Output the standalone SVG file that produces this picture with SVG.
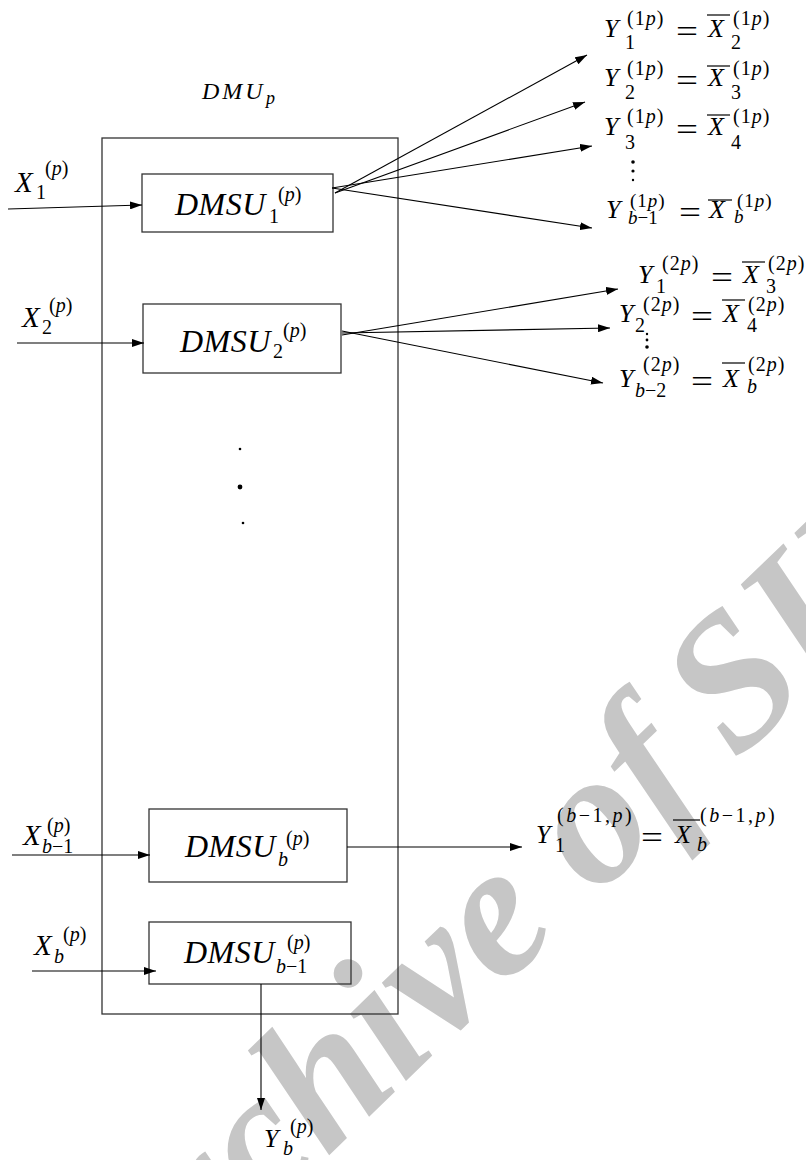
<svg xmlns="http://www.w3.org/2000/svg" width="806" height="1160" viewBox="0 0 806 1160">
<defs>
<marker id="ah" markerUnits="userSpaceOnUse" markerWidth="12" markerHeight="8" refX="12" refY="4" orient="auto">
<path d="M0,0 L12,4 L0,8 z" fill="#000"/>
</marker>
<style>
.wm{font-family:"Liberation Serif",serif;font-weight:bold;font-style:italic;font-size:190px;fill:#c6c6c6}
.box{fill:none;stroke:#333;stroke-width:1.3}
.con line{stroke:#000;stroke-width:1.1;marker-end:url(#ah)}
text{font-family:"Liberation Serif","DejaVu Serif",serif;fill:#000}
.i{font-style:italic}
.n{font-style:normal}
.L{font-size:32px;font-style:italic;letter-spacing:0.5px}
.X{font-size:29px;font-style:italic}
.R{font-size:26px;font-style:italic}
.s{font-size:20px}
.t{font-size:19px}
.eq{font-size:32px;font-style:normal}
.ov{stroke:#000;stroke-width:1.2}
</style>
</defs>
<rect width="806" height="1160" fill="#fff"/>
<text class="wm" transform="translate(266,1216) rotate(-44)" x="-201" y="0">Archive of <tspan dx="-10">SID</tspan></text>

<g id="dmu">
<rect class="box" x="102" y="138" width="296" height="876"/>
<text x="202" y="99" style="font-size:24px;font-style:italic;letter-spacing:3px">DMU<tspan x="266" y="104" style="font-size:18px;letter-spacing:0">p</tspan></text>
</g>

<g id="dmsu1">
<rect class="box" x="142" y="174" width="191" height="58"/>
<text><tspan class="L" x="175" y="215">DMSU</tspan><tspan class="s n" x="269" y="223">1</tspan><tspan class="s n" x="278" y="201">(<tspan class="i">p</tspan>)</tspan></text>
</g>
<g id="dmsu2">
<rect class="box" x="143" y="304" width="198" height="69"/>
<text><tspan class="L" x="180" y="352">DMSU</tspan><tspan class="s n" x="273" y="358">2</tspan><tspan class="s n" x="283" y="337">(<tspan class="i">p</tspan>)</tspan></text>
</g>
<g id="dmsub">
<rect class="box" x="149" y="809" width="198" height="73"/>
<text><tspan class="L" x="185" y="857">DMSU</tspan><tspan class="s i" x="278" y="866">b</tspan><tspan class="s n" x="286" y="845">(<tspan class="i">p</tspan>)</tspan></text>
</g>
<g id="dmsub1">
<rect class="box" x="149" y="922" width="202" height="62"/>
<text><tspan class="L" x="184" y="963">DMSU</tspan><tspan class="s i" x="276" y="973">b<tspan class="n">−1</tspan></tspan><tspan class="s n" x="287" y="949">(<tspan class="i">p</tspan>)</tspan></text>
</g>

<g id="dots">
<circle cx="240" cy="449" r="1.3"/>
<circle cx="240" cy="487" r="2.4"/>
<circle cx="243" cy="523" r="1.3"/>
</g>

<g id="inputs">
<text><tspan class="X" x="15" y="192">X</tspan><tspan class="s n" x="36" y="199">1</tspan><tspan class="s n" x="45" y="175">(<tspan class="i">p</tspan>)</tspan></text>
<text><tspan class="X" x="22" y="327">X</tspan><tspan class="s n" x="42" y="334">2</tspan><tspan class="s n" x="49" y="312">(<tspan class="i">p</tspan>)</tspan></text>
<text><tspan class="X" x="23" y="845">X</tspan><tspan class="s i" x="42" y="853">b<tspan class="n">−1</tspan></tspan><tspan class="s n" x="47" y="832">(<tspan class="i">p</tspan>)</tspan></text>
<text><tspan class="X" x="34" y="955">X</tspan><tspan class="s i" x="54" y="963">b</tspan><tspan class="s n" x="63" y="941">(<tspan class="i">p</tspan>)</tspan></text>
</g>

<g id="out1">
<text><tspan class="R" x="604" y="37">Y</tspan><tspan class="s n" x="625" y="49">1</tspan><tspan class="s n" x="627" y="25" style="letter-spacing:1px">(1<tspan class="i">p</tspan>)</tspan><tspan class="eq" x="676" y="42" textLength="22" lengthAdjust="spacingAndGlyphs">=</tspan><tspan class="R" x="708" y="37">X</tspan><tspan class="s n" x="731" y="49">2</tspan><tspan class="s n" x="733" y="25" style="letter-spacing:1px">(1<tspan class="i">p</tspan>)</tspan></text>
<line class="ov" x1="707" y1="15" x2="730" y2="15"/>
<text><tspan class="R" x="604" y="86">Y</tspan><tspan class="s n" x="625" y="99">2</tspan><tspan class="s n" x="627" y="75" style="letter-spacing:1px">(1<tspan class="i">p</tspan>)</tspan><tspan class="eq" x="676" y="91" textLength="22" lengthAdjust="spacingAndGlyphs">=</tspan><tspan class="R" x="708" y="86">X</tspan><tspan class="s n" x="731" y="99">3</tspan><tspan class="s n" x="733" y="75" style="letter-spacing:1px">(1<tspan class="i">p</tspan>)</tspan></text>
<line class="ov" x1="707" y1="66" x2="730" y2="66"/>
<text><tspan class="R" x="604" y="135">Y</tspan><tspan class="s n" x="625" y="149">3</tspan><tspan class="s n" x="627" y="123" style="letter-spacing:1px">(1<tspan class="i">p</tspan>)</tspan><tspan class="eq" x="676" y="140" textLength="22" lengthAdjust="spacingAndGlyphs">=</tspan><tspan class="R" x="708" y="135">X</tspan><tspan class="s n" x="731" y="149">4</tspan><tspan class="s n" x="733" y="123" style="letter-spacing:1px">(1<tspan class="i">p</tspan>)</tspan></text>
<line class="ov" x1="707" y1="115" x2="730" y2="115"/>
<circle cx="633" cy="162" r="1.8"/>
<circle cx="633" cy="171" r="1.6"/>
<circle cx="633" cy="180" r="1.2"/>
<text><tspan class="R" x="606" y="218">Y</tspan><tspan class="t i" x="628" y="224">b<tspan class="n">−1</tspan></tspan><tspan class="t n" x="630" y="207" style="letter-spacing:1px">(1<tspan class="i">p</tspan>)</tspan><tspan class="eq" x="679" y="223" textLength="22" lengthAdjust="spacingAndGlyphs">=</tspan><tspan class="R" x="709" y="218">X</tspan><tspan class="t i" x="734" y="223">b</tspan><tspan class="t n" x="737" y="207" style="letter-spacing:1px">(1<tspan class="i">p</tspan>)</tspan></text>
<line class="ov" x1="708" y1="200" x2="732" y2="200"/>
</g>

<g id="out2">
<text><tspan class="R" x="638" y="283">Y</tspan><tspan class="s n" x="656" y="293">1</tspan><tspan class="s n" x="662" y="270" style="letter-spacing:1px">(2<tspan class="i">p</tspan>)</tspan><tspan class="eq" x="711" y="288" textLength="22" lengthAdjust="spacingAndGlyphs">=</tspan><tspan class="R" x="743" y="283">X</tspan><tspan class="s n" x="766" y="293">3</tspan><tspan class="s n" x="768" y="270" style="letter-spacing:1px">(2<tspan class="i">p</tspan>)</tspan></text>
<line class="ov" x1="742" y1="262" x2="765" y2="262"/>
<text><tspan class="R" x="619" y="322">Y</tspan><tspan class="s n" x="635" y="332">2</tspan><tspan class="s n" x="643" y="311" style="letter-spacing:1px">(2<tspan class="i">p</tspan>)</tspan><tspan class="eq" x="691" y="327" textLength="22" lengthAdjust="spacingAndGlyphs">=</tspan><tspan class="R" x="723" y="322">X</tspan><tspan class="s n" x="747" y="332">4</tspan><tspan class="s n" x="748" y="311" style="letter-spacing:1px">(2<tspan class="i">p</tspan>)</tspan></text>
<line class="ov" x1="722" y1="300" x2="745" y2="300"/>
<circle cx="647" cy="334" r="1.2"/>
<circle cx="647" cy="340" r="1.4"/>
<circle cx="647" cy="347" r="1.8"/>
<text><tspan class="R" x="619" y="387">Y</tspan><tspan class="s i" x="635" y="397">b<tspan class="n">−2</tspan></tspan><tspan class="s n" x="643" y="371" style="letter-spacing:1px">(2<tspan class="i">p</tspan>)</tspan><tspan class="eq" x="691" y="392" textLength="22" lengthAdjust="spacingAndGlyphs">=</tspan><tspan class="R" x="723" y="387">X</tspan><tspan class="s i" x="747" y="393">b</tspan><tspan class="s n" x="748" y="371" style="letter-spacing:1px">(2<tspan class="i">p</tspan>)</tspan></text>
<line class="ov" x1="722" y1="363" x2="745" y2="363"/>
</g>

<g id="outb">
<text><tspan class="R" x="536" y="843">Y</tspan><tspan class="s n" x="555" y="852">1</tspan><tspan class="s n" x="557" y="822" style="letter-spacing:2.5px">(<tspan class="i">b</tspan>−1,<tspan class="i">p</tspan>)</tspan><tspan class="eq" x="641" y="848" textLength="22" lengthAdjust="spacingAndGlyphs">=</tspan><tspan class="R" x="675" y="843">X</tspan><tspan class="s i" x="697" y="851">b</tspan><tspan class="s n" x="700" y="822" style="letter-spacing:2.5px">(<tspan class="i">b</tspan>−1,<tspan class="i">p</tspan>)</tspan></text>
<line class="ov" x1="673" y1="820" x2="700" y2="820"/>
</g>

<g id="outyb">
<text><tspan class="R" x="264" y="1147">Y</tspan><tspan class="s i" x="283" y="1155">b</tspan><tspan class="s n" x="290" y="1133">(<tspan class="i">p</tspan>)</tspan></text>
</g>

<g id="connectors" class="con">
<line x1="8" y1="209" x2="142" y2="205"/>
<line x1="17" y1="343" x2="144" y2="343"/>
<line x1="12" y1="855" x2="150" y2="855"/>
<line x1="32" y1="971" x2="156" y2="971"/>
<line x1="335" y1="193" x2="587" y2="55"/>
<line x1="335" y1="193" x2="585" y2="102"/>
<line x1="332" y1="188" x2="592" y2="146"/>
<line x1="332" y1="188" x2="592" y2="228"/>
<line x1="342" y1="335" x2="618" y2="289"/>
<line x1="342" y1="333" x2="610" y2="328"/>
<line x1="342" y1="331" x2="603" y2="383"/>
<line x1="347" y1="847" x2="522" y2="847"/>
<line x1="261" y1="984" x2="261" y2="1110"/>
</g>
</svg>
